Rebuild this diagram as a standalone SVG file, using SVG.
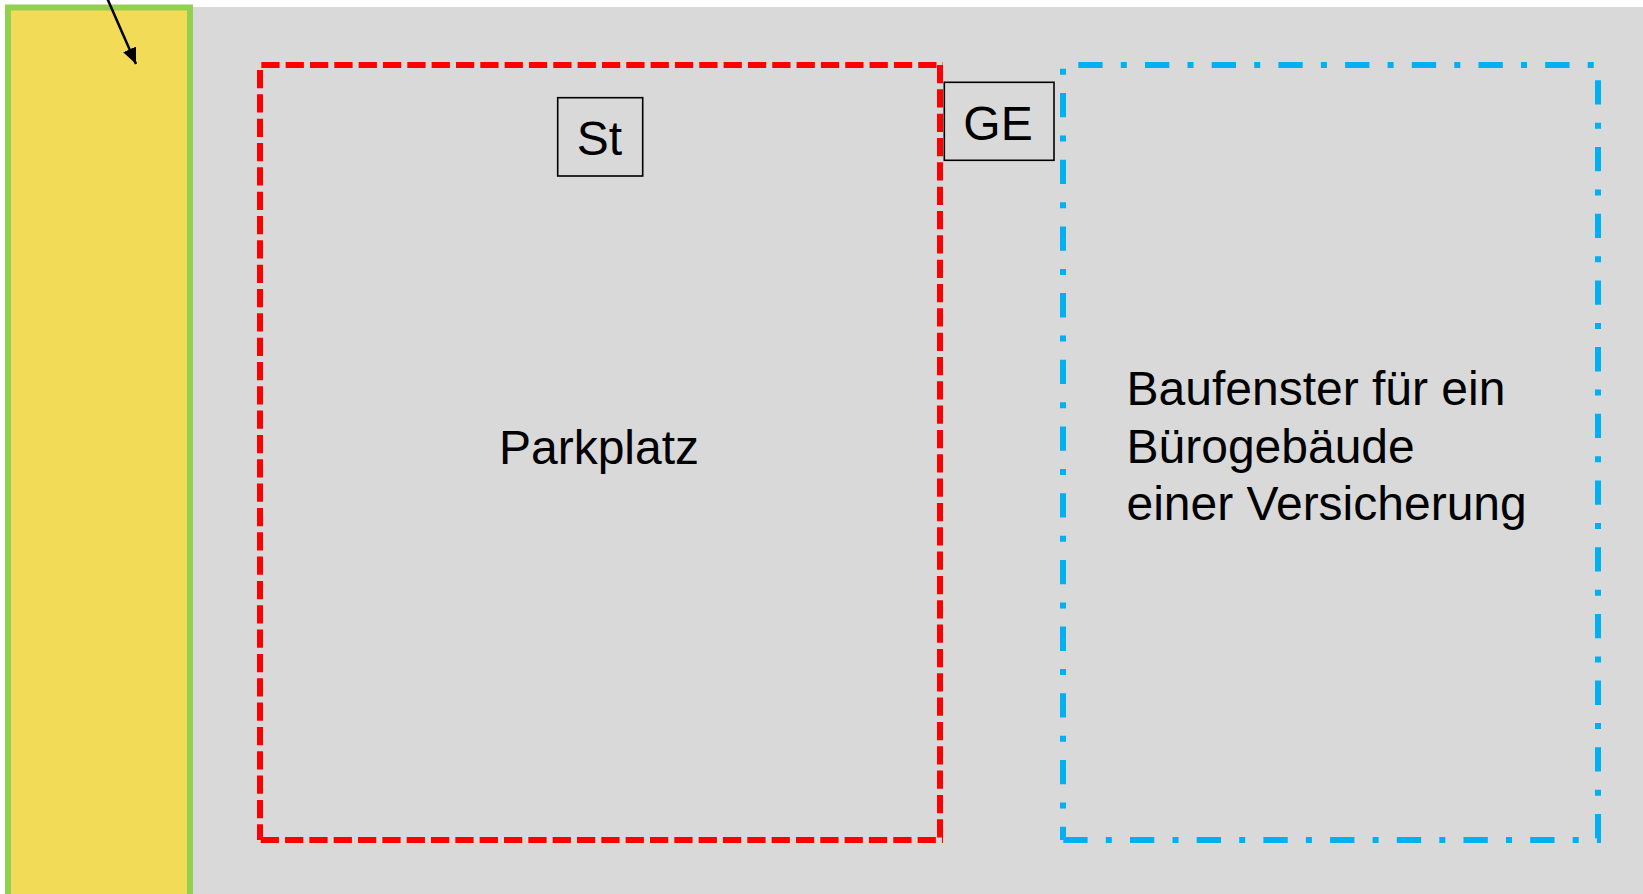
<svg xmlns="http://www.w3.org/2000/svg" width="1643" height="894" viewBox="0 0 1643 894">
  <style>
    .label { font-family: "Liberation Sans", Arial, sans-serif; font-size: 48px; fill: #000000; }
    .mid { text-anchor: middle; }
    .tag { fill: #D9D9D9; stroke: #000000; stroke-width: 1.6; }
    .red { fill: none; stroke: #FF0000; stroke-width: 6; stroke-dasharray: 18.25 6.08; }
    .blue { fill: none; stroke: #00B0F0; stroke-width: 6; stroke-dasharray: 24.3 18.2 6 18.2; }
  </style>
  <defs>
    <marker id="arrowhead" markerUnits="userSpaceOnUse" markerWidth="17" markerHeight="15" refX="16" refY="7" orient="auto">
      <path d="M0,0 L16,7 L0,14 Z" fill="#000000"/>
    </marker>
  </defs>

  <!-- page -->
  <rect x="0" y="0" width="1643" height="894" fill="#FFFFFF"/>
  <rect x="193" y="7" width="1450" height="887" fill="#D9D9D9"/>

  <!-- street strip on the left edge -->
  <g id="strip">
    <rect x="8" y="7.5" width="182" height="900" fill="#F2DC57" stroke="#92D050" stroke-width="6"/>
  </g>

  <!-- parking area -->
  <g id="parkplatz">
    <path class="red" d="M260,65 H943" stroke-dashoffset="23"/>
    <path class="red" d="M940,65 V843"/>
    <path class="red" d="M260.7,840 H943"/>
    <path class="red" d="M260,70 V840"/>
    <text class="label mid" x="599" y="464">Parkplatz</text>
  </g>

  <!-- zoning tag St -->
  <g id="tag-st">
    <rect class="tag" x="557.7" y="97.7" width="85" height="78.3"/>
    <text class="label mid" x="599.5" y="155">St</text>
  </g>

  <!-- zoning tag GE -->
  <g id="tag-ge">
    <rect class="tag" x="944.3" y="82.3" width="109.7" height="78"/>
    <text class="label mid" x="998" y="140">GE</text>
  </g>

  <!-- building window -->
  <g id="baufenster">
    <path class="blue" d="M1063,65 H1601" stroke-dashoffset="51.4"/>
    <path class="blue" d="M1598,62 V840" stroke-dashoffset="48.4"/>
    <path class="blue" d="M1063.3,840 H1601"/>
    <path class="blue" d="M1063,62 V840" stroke-dashoffset="35.7"/>
    <text class="label" x="1126.5" y="405">Baufenster für ein</text>
    <text class="label" x="1126.5" y="462.5">Bürogebäude</text>
    <text class="label" x="1126.5" y="520">einer Versicherung</text>
  </g>

  <!-- connectors -->
  <g id="connectors">
    <line x1="106.6" y1="-3" x2="136" y2="64" stroke="#000000" stroke-width="2.5" marker-end="url(#arrowhead)"/>
  </g>
</svg>
